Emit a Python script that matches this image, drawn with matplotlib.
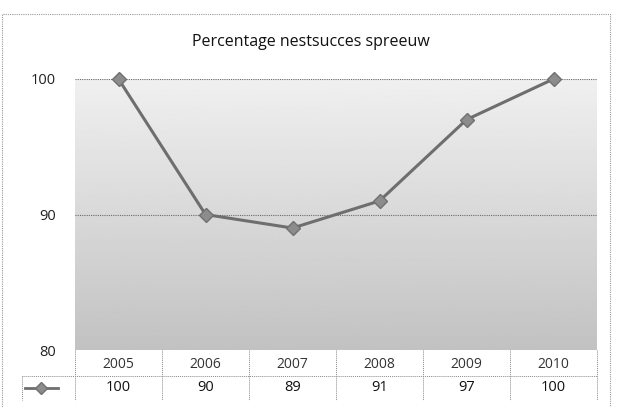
import matplotlib.pyplot as plt
import numpy as np
from matplotlib.patches import Rectangle

years = ['2005', '2006', '2007', '2008', '2009', '2010']
succes = [100, 90, 89, 91, 97, 100]
yticks = [80, 90, 100]

plt.rcParams['font.family'] = ['Open Sans', 'DejaVu Sans']

fig = plt.figure(figsize=(6.33, 4.07), dpi=100)
ax = fig.add_axes([75 / 633, 1 - 350 / 407, 522 / 633, 271 / 407])

x = np.arange(len(years))
ax.set_xlim(-0.5, len(years) - 0.5)
ax.set_ylim(80, 100)

# achtergrond met verloop (licht boven, grijs onder)
grad = np.linspace(0.94, 0.76, 256).reshape(-1, 1)
ax.imshow(grad, extent=(-0.5, len(years) - 0.5, 80, 100), origin='upper', cmap='gray',
          vmin=0, vmax=1, aspect='auto', zorder=0)

for yv in [90, 100]:
    ax.axhline(yv, color='#6a6a6a', lw=0.8, ls=(0, (1, 1)), zorder=1)

ax.plot(x, succes, color='#6e6e6e', lw=2.2, marker='D', markersize=7,
        markerfacecolor='#8c8c8c', markeredgecolor='#707070', zorder=3, clip_on=False)

ax.set_yticks(yticks)
ax.set_yticklabels([str(v) for v in yticks], fontsize=10.5, color='#222222')
ax.tick_params(axis='y', length=0, pad=14)
ax.set_xticks([])
for s in ax.spines.values():
    s.set_visible(False)

fig.text(311 / 633, 1 - 42 / 407, 'Percentage nestsucces spreeuw', ha='center', va='center',
         fontsize=11.5, color='#111111')

# gegevenstabel onder de grafiek
tr = ax.get_xaxis_transform()
for i, (yr, v) in enumerate(zip(years, succes)):
    ax.text(i, -0.052, yr, transform=tr, ha='center', va='center', fontsize=10, color='#333333')
    ax.text(i, -0.140, str(v), transform=tr, ha='center', va='center', fontsize=10.5, color='#111111')
    ax.plot([i - 0.5, i - 0.5], [0, -0.185], transform=tr, color='#8a8a8a', lw=0.7,
            ls=(0, (1, 1)), clip_on=False)
ax.plot([len(years) - 0.5] * 2, [0, -0.185], transform=tr, color='#8a8a8a', lw=0.7,
        ls=(0, (1, 1)), clip_on=False)
ax.plot([-1.11, len(years) - 0.5], [-0.096, -0.096], transform=tr, color='#8a8a8a', lw=0.7,
        ls=(0, (1, 1)), clip_on=False)
ax.plot([-1.11, -1.11], [-0.096, -0.185], transform=tr, color='#8a8a8a', lw=0.7,
        ls=(0, (1, 1)), clip_on=False)
ax.plot([-1.08, -0.70], [-0.140, -0.140], transform=tr, color='#6e6e6e', lw=2, clip_on=False)
ax.plot([-0.89], [-0.140], transform=tr, marker='D', markersize=6, color='#8c8c8c',
        markeredgecolor='#707070', clip_on=False)

# kaderrand
fig.patches.append(Rectangle((2 / 633, -0.01), 608 / 633, 1 - 14 / 407 + 0.01,
                             transform=fig.transFigure, fill=False, edgecolor='#9a9a9a',
                             lw=0.8, ls=(0, (1, 1))))

fig.savefig('out.png', dpi=100)
